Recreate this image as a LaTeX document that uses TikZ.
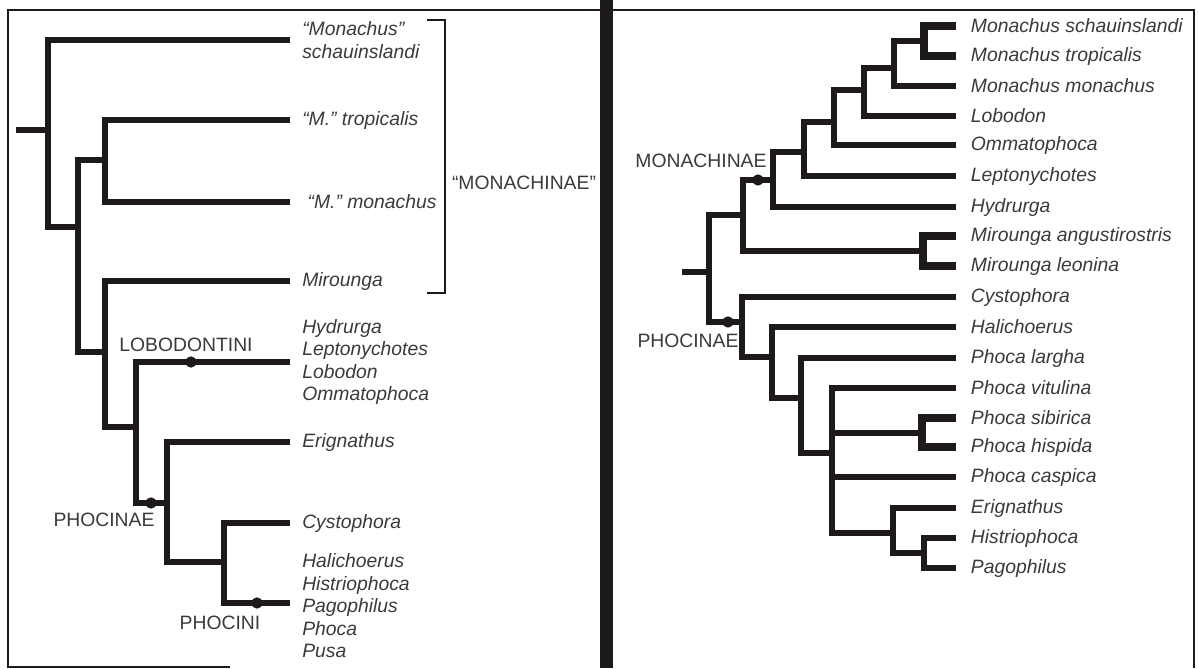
\documentclass[tikz,border=0pt]{standalone}
\usepackage{fontspec}
\setmainfont{Liberation Sans}
\definecolor{ink}{HTML}{1E1A1A}
\definecolor{txt}{HTML}{3A3A3E}
\begin{document}
\begin{tikzpicture}[x=0.75pt,y=-0.75pt,
  br/.style={line width=4.4pt, draw=ink, line join=miter},
  brr/.style={line width=3.9pt, draw=ink, line join=miter},
  tipbr/.style={line width=5.4pt, draw=ink, line join=miter},
  frame/.style={line width=2pt, draw=ink},
  tx/.style={anchor=west, inner xsep=9pt, inner ysep=0pt, text=txt, font=\fontsize{14.5}{16.9}\selectfont\itshape, align=left},
  txr/.style={tx, inner xsep=11pt},
  grp/.style={anchor=center, text=txt, font=\fontsize{14.5}{16.9}\selectfont, inner sep=0pt},
  dot/.style={circle, fill=ink, inner sep=0pt, minimum size=8.5pt}]
\useasboundingbox (0,0) rectangle (1198,668);

% frames
\fill[ink] (600,0) rectangle (613,668);
\draw[frame] (600,10) -- (8,10) -- (8,667) -- (230,667);
\draw[frame] (613,10) -- (1194,10) -- (1194,668);

% ---------- left tree ----------
\coordinate (L0) at (16,130);
\coordinate (L1) at (48,130);
\coordinate (L2) at (78,227);
\coordinate (L3) at (105,160);
\coordinate (L4) at (105,352);
\coordinate (L5) at (136,427);
\coordinate (L6) at (167,503);
\coordinate (L7) at (224,562);

\node[tx] (ms) at (290,40) {“Monachus”\\schauinslandi};
\node[tx] (mt) at (290,120) {“M.” tropicalis};
\node[tx, inner xsep=13pt] (mm) at (290,202) {“M.” monachus};
\node[tx] (mir) at (290,281) {Mirounga};
\node[tx] (lob) at (290,362) {Hydrurga\\Leptonychotes\\Lobodon\\Ommatophoca};
\node[tx] (eri) at (290,442) {Erignathus};
\node[tx] (cys) at (290,523) {Cystophora};
\node[tx] (pho) at (290,606) {Halichoerus\\Histriophoca\\Pagophilus\\Phoca\\Pusa};

\draw[br] (L0) -- (L1);
\draw[br] (L1) |- (ms.west);
\draw[br] (L1) |- (L2);
\draw[br] (L2) |- (L3);
\draw[br] (L2) |- (L4);
\draw[br] (L3) |- (mt.west);
\draw[br] (L3) |- (mm.west);
\draw[br] (L4) |- (mir.west);
\draw[br] (L4) |- (L5);
\draw[br] (L5) |- (lob.west);
\draw[br] (L5) |- (L6);
\draw[br] (L6) |- (eri.west);
\draw[br] (L6) |- (L7);
\draw[br] (L7) |- (cys.west);
\draw[br] (L7) |- ([yshift=2.25pt]pho.west);

\node[dot] (d1) at (191,362) {};
\node[dot] (d2) at (151,503) {};
\node[dot] (d3) at (257,603) {};

\node[grp] (monq) at (524,183) {“MONACHINAE”};
\node[grp] (lobt) at (186,345) {LOBODONTINI};
\node[grp] (phl) at (104,520) {PHOCINAE};
\node[grp] (phc) at (220,623) {PHOCINI};
\coordinate (bt) at (427,20);
\coordinate (bb) at (427,293);
\draw[frame, line width=1.6pt] (bt) -- ++(18,0) |- (bb);

% ---------- right tree ----------
\coordinate (R0) at (682,272);
\coordinate (RA) at (709,272);
\coordinate (RB) at (743,215);
\coordinate (RC) at (773,180);
\coordinate (RD) at (804,152);
\coordinate (RE) at (834,122);
\coordinate (RF) at (864,90);
\coordinate (RG) at (894,68);
\coordinate (RH) at (924,41);
\coordinate (RM) at (923,251);
\coordinate (RP) at (742,322);
\coordinate (RQ) at (772,357);
\coordinate (RR) at (801,398);
\coordinate (RS) at (832,453);
\coordinate (RT) at (922,433);
\coordinate (RU) at (893,533);
\coordinate (RV) at (924,553);

\node[txr] (sch) at (956,26) {Monachus schauinslandi};
\node[txr] (tro) at (956,56) {Monachus tropicalis};
\node[txr] (mon) at (956,86) {Monachus monachus};
\node[txr] (lbd) at (956,116) {Lobodon};
\node[txr] (omm) at (956,145) {Ommatophoca};
\node[txr] (lep) at (956,176) {Leptonychotes};
\node[txr] (hyd) at (956,207) {Hydrurga};
\node[txr] (ang) at (956,236) {Mirounga angustirostris};
\node[txr] (leo) at (956,266) {Mirounga leonina};
\node[txr] (cy) at (956,297) {Cystophora};
\node[txr] (hal) at (956,327) {Halichoerus};
\node[txr] (lar) at (956,358) {Phoca largha};
\node[txr] (vit) at (956,388) {Phoca vitulina};
\node[txr] (sib) at (956,418) {Phoca sibirica};
\node[txr] (his) at (956,447) {Phoca hispida};
\node[txr] (cas) at (956,477) {Phoca caspica};
\node[txr] (er) at (956,508) {Erignathus};
\node[txr] (hi) at (956,538) {Histriophoca};
\node[txr] (pag) at (956,568) {Pagophilus};

\draw[brr] (R0) -- (RA);
\draw[brr] (RA) |- (RB);
\draw[brr] (RA) |- (RP);
\draw[brr] (RB) |- (RC);
\draw[brr] (RB) |- (RM);
\draw[brr] (RC) |- (RD);
\draw[brr] (RC) |- (hyd.west);
\draw[brr] (RD) |- (RE);
\draw[brr] (RD) |- (lep.west);
\draw[brr] (RE) |- (RF);
\draw[brr] (RE) |- (omm.west);
\draw[brr] (RF) |- (RG);
\draw[brr] (RF) |- (lbd.west);
\draw[brr] (RG) |- (RH);
\draw[brr] (RG) |- (mon.west);
\draw[tipbr] (RH) |- (sch.west);
\draw[tipbr] (RH) |- (tro.west);
\draw[tipbr] (RM) |- (ang.west);
\draw[tipbr] (RM) |- (leo.west);
\draw[brr] (RP) |- (cy.west);
\draw[brr] (RP) |- (RQ);
\draw[brr] (RQ) |- (hal.west);
\draw[brr] (RQ) |- (RR);
\draw[brr] (RR) |- (lar.west);
\draw[brr] (RR) |- (RS);
\draw[brr] (RS) |- (vit.west);
\draw[brr] (RS) |- (RT);
\draw[brr] (RS) |- (cas.west);
\draw[brr] (RS) |- (RU);
\draw[tipbr] (RT) |- (sib.west);
\draw[tipbr] (RT) |- (his.west);
\draw[brr] (RU) |- (er.west);
\draw[brr] (RU) |- (RV);
\draw[brr] (RV) |- (hi.west);
\draw[brr] (RV) |- (pag.west);

\node[dot] (d4) at (758,180) {};
\node[dot] (d5) at (728,322) {};
\node[grp] (monr) at (701,161) {MONACHINAE};
\node[grp] (phr) at (688,341) {PHOCINAE};
\end{tikzpicture}
\end{document}
